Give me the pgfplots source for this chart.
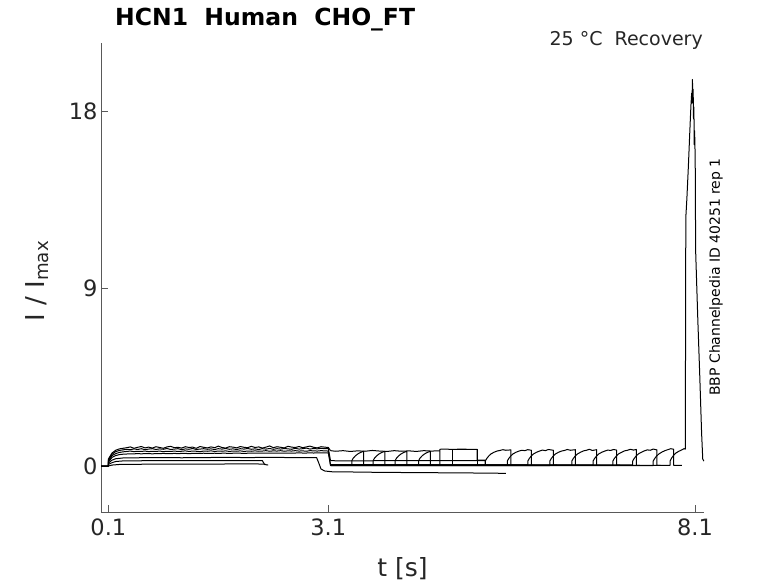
\documentclass[border=0pt]{standalone}
\usepackage{fontspec}
\setmainfont{DejaVu Sans}
\usepackage{pgfplots}
\pgfplotsset{compat=1.18}
\usepackage{pgfplotstable}
\definecolor{axgray}{HTML}{595959}
\definecolor{txtgray}{HTML}{262626}

\pgfplotstableread{
t a b c d
0 0 0 0 0
0.1 0 0 0 0
0.1 0.35 0.30 0.25 0.20
0.15 0.66 0.60 0.53 0.44
0.20 0.80 0.73 0.63 0.53
0.25 0.87 0.79 0.69 0.58
0.30 0.90 0.82 0.72 0.60
0.35 0.93 0.85 0.74 0.61
0.40 0.97 0.83 0.76 0.62
0.45 0.90 0.87 0.73 0.62
0.50 0.95 0.84 0.75 0.63
0.55 0.99 0.88 0.74 0.62
0.60 0.92 0.83 0.76 0.63
0.65 0.96 0.86 0.73 0.63
0.70 0.91 0.88 0.75 0.62
0.75 0.98 0.84 0.74 0.63
0.80 0.94 0.87 0.76 0.63
0.85 0.90 0.85 0.73 0.64
0.90 0.97 0.89 0.75 0.63
0.95 1.00 0.84 0.74 0.63
1.00 0.93 0.86 0.76 0.64
1.05 0.95 0.88 0.74 0.63
1.10 0.91 0.83 0.75 0.64
1.15 0.98 0.87 0.77 0.64
1.20 0.94 0.85 0.74 0.63
1.25 0.96 0.89 0.76 0.64
1.30 0.90 0.84 0.75 0.64
1.35 0.99 0.86 0.73 0.64
1.40 0.95 0.88 0.76 0.65
1.45 0.92 0.85 0.75 0.64
1.50 0.97 0.87 0.77 0.64
1.55 0.93 0.84 0.74 0.65
1.60 1.01 0.88 0.76 0.64
1.65 0.94 0.86 0.75 0.65
1.70 0.91 0.89 0.77 0.65
1.75 0.98 0.85 0.74 0.64
1.80 0.96 0.87 0.76 0.65
1.85 0.92 0.84 0.75 0.65
1.90 0.99 0.88 0.77 0.65
1.95 0.95 0.86 0.74 0.64
2.00 0.93 0.89 0.76 0.65
2.05 1.00 0.85 0.75 0.65
2.10 0.94 0.87 0.77 0.66
2.15 0.97 0.84 0.75 0.65
2.20 0.91 0.88 0.76 0.66
2.25 0.96 0.86 0.78 0.65
2.30 1.02 0.89 0.75 0.66
2.35 0.93 0.85 0.77 0.65
2.40 0.98 0.88 0.76 0.66
2.45 0.95 0.86 0.78 0.66
2.50 0.92 0.89 0.75 0.65
2.55 1.00 0.87 0.77 0.66
2.60 0.96 0.85 0.76 0.66
2.65 0.94 0.90 0.78 0.66
2.70 0.99 0.86 0.76 0.67
2.75 0.93 0.88 0.77 0.66
2.80 0.97 0.91 0.75 0.66
2.85 1.01 0.86 0.78 0.67
2.90 0.95 0.89 0.77 0.66
2.95 0.92 0.87 0.76 0.67
3.00 0.98 0.90 0.78 0.67
3.05 0.96 0.88 0.77 0.67
3.10 0.94 0.89 0.76 0.67
3.13 0.78 0.27 0.05 0.03
}\band

\begin{document}
\begin{tikzpicture}
\begin{axis}[
  at={(0,0)}, anchor=south west,
  scale only axis, width=603bp, height=469bp,
  xmin=0, xmax=8.223, ymin=-2.33, ymax=21.45,
  axis x line*=bottom, axis y line*=left,
  axis line style={-, axgray, line width=0.8bp},
  x axis line style={-}, y axis line style={-},
  every tick/.style={axgray, line width=0.8bp},
  tick align=inside, major tick length=7bp,
  xtick={0.1,3.1,8.1}, xticklabels={0.1,3.1,8.1},
  ytick={0,9,18}, yticklabels={0,9,18},
  minor tick num=0,
  /pgf/number format/assume math mode=true,
  tick label style={font=\fontsize{22.5bp}{27bp}\selectfont, text=txtgray},
  xticklabel style={yshift=-3bp},
  cycle list={{black, solid, mark=none}},
  every axis plot post/.append style={black, solid, line width=1bp, line join=round, mark=none},
]
% first pulse band
\addplot table[x=t,y=a]{\band};
\addplot table[x=t,y=b]{\band};
\addplot table[x=t,y=c]{\band};
\addplot table[x=t,y=d]{\band};
% lower traces in first pulse
\addplot coordinates {(0,0) (0.1,0) (0.1,0.15) (0.15,0.30) (0.2,0.37) (0.3,0.41) (0.5,0.42) (0.8,0.43) (1.1,0.42) (1.4,0.43) (1.7,0.44) (2.0,0.43) (2.3,0.44) (2.6,0.43) (2.94,0.43) (2.97,0.15) (3.0,-0.15) (3.05,-0.25) (3.15,-0.29) (3.4,-0.30) (3.8,-0.32) (4.2,-0.33) (4.6,-0.34) (5.0,-0.35) (5.3,-0.36) (5.52,-0.37)};
\addplot coordinates {(0.1,0) (0.1,0.08) (0.15,0.17) (0.2,0.23) (0.3,0.26) (0.6,0.27) (1.0,0.27) (1.4,0.28) (1.8,0.27) (2.2,0.28) (2.23,0.08) (2.28,0.05)};
\addplot coordinates {(0.1,0) (0.15,0.05) (0.25,0.08) (0.5,0.09) (1.0,0.10) (1.5,0.10) (2.0,0.11) (2.24,0.10)};
% second segment
\addplot coordinates {(3.13,0.78) (3.2,0.75) (3.3,0.78) (3.4,0.74) (3.5,0.77) (3.6,0.75) (3.7,0.79) (3.8,0.76) (3.9,0.74) (4.0,0.78) (4.1,0.75) (4.2,0.77) (4.3,0.74) (4.4,0.78) (4.5,0.76) (4.62,0.77)};
\addplot coordinates {(3.13,0.27) (3.5,0.26) (4.0,0.28) (4.5,0.27) (5.0,0.27) (5.24,0.27) (5.24,0.05) (5.28,0.05)};
\addplot coordinates {(3.13,0.05) (3.42,0.05) (3.42,0.27) (3.44,0.40) (3.47,0.52) (3.50,0.61) (3.54,0.69) (3.58,0.75) (3.58,0.05) (3.63,0.05)};
\addplot coordinates {(3.13,0.07) (3.71,0.07) (3.71,0.27) (3.73,0.40) (3.76,0.52) (3.79,0.61) (3.83,0.69) (3.87,0.75) (3.87,0.06) (3.92,0.06)};
\addplot coordinates {(3.13,0.04) (4.01,0.04) (4.01,0.27) (4.03,0.40) (4.06,0.52) (4.09,0.61) (4.13,0.69) (4.17,0.75) (4.17,0.05) (4.22,0.05)};
\addplot coordinates {(3.13,0.06) (4.33,0.06) (4.33,0.27) (4.35,0.40) (4.38,0.52) (4.41,0.61) (4.45,0.69) (4.49,0.75) (4.49,0.05) (4.54,0.05)};
\addplot coordinates {(3.13,0.04) (4.62,0.04) (4.62,0.85) (4.70,0.86) (4.80,0.84) (4.90,0.86) (5.00,0.85) (5.13,0.85) (5.13,0.30) (5.24,0.30) (5.24,0.04) (5.30,0.04)};
\addplot coordinates {(3.13,0.03) (4.80,0.03) (4.80,0.84) (5.13,0.84) (5.13,0.05) (5.20,0.05)};
% third segment
\addplot coordinates {(3.13,0.05) (5.24,0.05) (5.24,0.25) (5.26,0.38) (5.29,0.52) (5.32,0.62) (5.36,0.70) (5.40,0.76) (5.44,0.79) (5.48,0.83) (5.52,0.80) (5.59,0.82) (5.59,0.04) (5.64,0.04)};
\addplot coordinates {(3.13,0.03) (5.54,0.03) (5.54,0.25) (5.56,0.38) (5.59,0.52) (5.62,0.62) (5.66,0.70) (5.70,0.76) (5.74,0.80) (5.78,0.78) (5.82,0.83) (5.87,0.80) (5.87,0.03) (5.92,0.03)};
\addplot coordinates {(3.13,0.06) (5.82,0.06) (5.82,0.25) (5.84,0.38) (5.87,0.52) (5.90,0.62) (5.94,0.70) (5.98,0.76) (6.02,0.81) (6.06,0.78) (6.10,0.84) (6.17,0.80) (6.17,0.05) (6.22,0.05)};
\addplot coordinates {(3.13,0.02) (6.12,0.02) (6.12,0.25) (6.14,0.38) (6.17,0.52) (6.20,0.62) (6.24,0.70) (6.28,0.76) (6.32,0.79) (6.36,0.84) (6.40,0.80) (6.47,0.83) (6.47,0.03) (6.52,0.03)};
\addplot coordinates {(3.13,0.04) (6.42,0.04) (6.42,0.25) (6.44,0.38) (6.47,0.52) (6.50,0.62) (6.54,0.70) (6.58,0.77) (6.62,0.80) (6.66,0.85) (6.70,0.79) (6.76,0.83) (6.76,0.04) (6.81,0.04)};
\addplot coordinates {(3.13,0.05) (6.71,0.05) (6.71,0.25) (6.73,0.38) (6.76,0.52) (6.79,0.62) (6.83,0.70) (6.87,0.76) (6.91,0.81) (6.95,0.79) (6.99,0.84) (7.03,0.81) (7.03,0.05) (7.08,0.05)};
\addplot coordinates {(3.13,0.03) (6.98,0.03) (6.98,0.25) (7.00,0.38) (7.03,0.52) (7.06,0.62) (7.10,0.70) (7.14,0.77) (7.18,0.80) (7.22,0.85) (7.26,0.81) (7.30,0.84) (7.30,0.04) (7.35,0.04)};
\addplot coordinates {(3.13,0.06) (7.25,0.06) (7.25,0.25) (7.27,0.38) (7.30,0.52) (7.33,0.62) (7.37,0.70) (7.41,0.77) (7.45,0.82) (7.49,0.80) (7.53,0.86) (7.58,0.82) (7.58,0.04) (7.63,0.04)};
\addplot coordinates {(3.13,0.02) (7.53,0.02) (7.53,0.25) (7.55,0.38) (7.58,0.52) (7.61,0.62) (7.65,0.71) (7.69,0.78) (7.73,0.83) (7.77,0.88) (7.81,0.85) (7.81,0.03) (7.92,0.03)};
\addplot coordinates {(3.13,0.04) (7.76,0.04) (7.76,0.25) (7.78,0.40) (7.81,0.55) (7.84,0.66) (7.88,0.75) (7.92,0.82) (7.95,0.88) (7.968,0.86) (7.975,12.6) (7.99,13.6) (8.01,15.2) (8.03,17.0) (8.045,18.3) (8.055,18.9) (8.06,18.4) (8.065,19.6) (8.07,18.8) (8.075,19.1) (8.08,17.6) (8.085,18.2) (8.09,16.3) (8.095,17.0) (8.103,15.6) (8.107,12.5) (8.11,10.8) (8.138,7.5) (8.165,4.6) (8.19,1.7) (8.206,0.35) (8.223,0.25)};
\end{axis}
% texts (picture coords: axis box lower-left at origin, 1bp = 1px)
\node[anchor=base west, inner sep=0pt, font=\fontsize{23.5bp}{28bp}\selectfont\bfseries] at (14bp,486bp) {HCN1\ \ Human\ \ CHO\_FT};
\node[anchor=base east, inner sep=0pt, font=\fontsize{19bp}{23bp}\selectfont, text=txtgray] at (602bp,466bp) {25 °C\ \ Recovery};
\node[rotate=90, inner sep=0pt, font=\fontsize{14bp}{17bp}\selectfont] at (615bp,235bp) {BBP Channelpedia ID 40251 rep 1};
\node[rotate=90, inner sep=0pt, font=\fontsize{26bp}{31bp}\selectfont, text=txtgray] at (-64bp,231bp) {I / I\textsubscript{max}};
\node[anchor=base, inner sep=0pt, font=\fontsize{25bp}{30bp}\selectfont, text=txtgray] at (301.5bp,-64bp) {t [s]};
\path (-101bp,-71bp) rectangle (677bp,512bp);
\end{tikzpicture}
\end{document}
